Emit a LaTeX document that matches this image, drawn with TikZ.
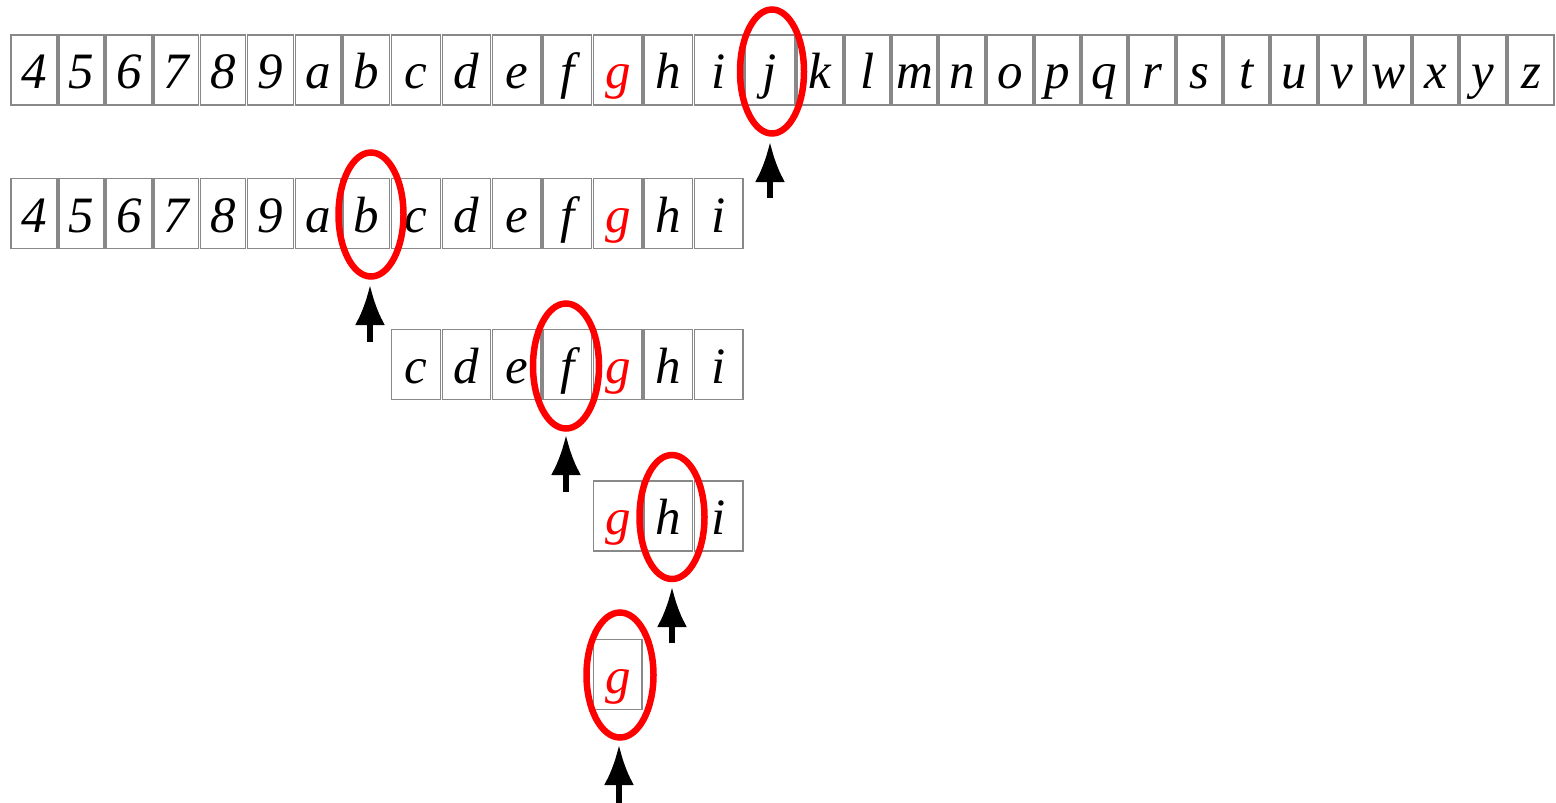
\documentclass[tikz,border=0pt]{standalone}
\usepackage{fontspec}
\setmainfont{Liberation Serif}
\usetikzlibrary{arrows.meta}
\definecolor{boxgray}{RGB}{136,136,136}
\definecolor{hired}{RGB}{255,0,0}
\def\Lefts{{11,59,106,154,200.5,247.5,295.5,343,391.5,442.5,492.5,543,593.5,644,694.5,745,797,845,892,939,987,1035,1082,1129,1177,1224,1271,1319,1366,1413,1460,1508,1556}}
\def\Letters{{"4","5","6","7","8","9","a","b","c","d","e","f","g","h","i","j","k","l","m","n","o","p","q","r","s","t","u","v","w","x","y","z"}}
\newcommand\drawrow[4]{%
  \foreach \i in {#3,...,#4}{%
    \pgfmathsetmacro\myl{\Lefts[\i]}%
    \pgfmathsetmacro\myr{\Lefts[\i+1]-2}%
    \pgfmathsetmacro\myw{\myr-\myl}%
    \pgfmathsetmacro\myx{(\myl+\myr)/2}%
    \pgfmathparse{\Letters[\i]}\let\mych\pgfmathresult
    \ifnum\i=12 \def\mytc{hired}\else\def\mytc{black}\fi
    \node[cell,minimum width=\myw pt] (#1-\i) at (\myx,#2+35) {};
    \node[lab,text=\mytc] (#1-\i-t) at ([yshift=17pt]#1-\i.south) {\mych};
  }}
\begin{document}
\begin{tikzpicture}[x=1pt,y=-1pt,
  cell/.style={draw=boxgray,line width=1.5pt,inner sep=0pt,minimum height=70pt},
  lab/.style={font=\fontsize{51}{51}\selectfont\itshape,inner sep=0pt,anchor=base},
  ring/.style={draw=hired,line width=6.5pt},
  up/.style={line width=5.5pt,-{Latex[length=40pt,width=30pt]}}]
\useasboundingbox (0,0) rectangle (1556,803);
\drawrow{ra}{35}{0}{31}
\drawrow{rb}{178.5}{0}{14}
\drawrow{rc}{329.5}{8}{14}
\drawrow{rd}{481}{12}{14}
\drawrow{re}{639.5}{12}{12}
% rings
\draw[ring] (772,71.5) ellipse [x radius=32, y radius=62];
\draw[ring] (371,214.5) ellipse [x radius=32.5, y radius=62];
\draw[ring] (566,366) ellipse [x radius=33, y radius=62.5];
\draw[ring] (672,517) ellipse [x radius=32.5, y radius=62];
\draw[ring] (620,675) ellipse [x radius=33.5, y radius=62.5];
% arrows
\coordinate (a1s) at (770,198); \coordinate (a1e) at (770,142);
\coordinate (a2s) at (370,342); \coordinate (a2e) at (370,285);
\coordinate (a3s) at (566,492); \coordinate (a3e) at (566,435);
\coordinate (a4s) at (672,643); \coordinate (a4e) at (672,587);
\coordinate (a5s) at (619,803); \coordinate (a5e) at (619,745);
\draw[up] (a1s) -- (a1e);
\draw[up] (a2s) -- (a2e);
\draw[up] (a3s) -- (a3e);
\draw[up] (a4s) -- (a4e);
\draw[up] (a5s) -- (a5e);
\end{tikzpicture}
\end{document}
